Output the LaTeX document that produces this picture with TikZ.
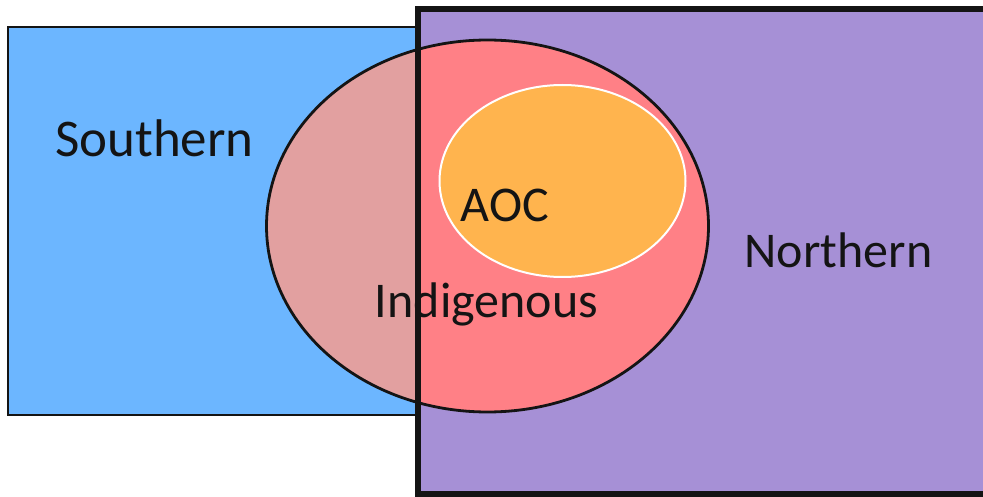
\documentclass[tikz,border=0pt]{standalone}
\usepackage{fontspec}
\setmainfont{Carlito}
\definecolor{southblue}{RGB}{108,182,255}
\definecolor{northpurple}{RGB}{166,144,214}
\definecolor{indleft}{RGB}{226,160,160}
\definecolor{indright}{RGB}{255,128,134}
\definecolor{aocorange}{RGB}{255,180,78}
\definecolor{inkline}{RGB}{20,20,20}
\tikzset{
  lbl/.style={font=\fontsize{50}{60}\selectfont, text=inkline, anchor=base, inner sep=0pt},
}
\begin{document}
\begin{tikzpicture}[x=1pt,y=-1pt]
\useasboundingbox (0,0) rectangle (983,497);
% Southern rectangle
\draw[fill=southblue, draw=inkline, line width=2.6pt] (8,27) rectangle (430,415);
% Northern rectangle (extends past right edge)
\begin{scope}
\clip (0,0) rectangle (983,497);
\fill[northpurple] (418,9) rectangle (1000,494);
\end{scope}
% Indigenous ellipse fills
\begin{scope}
\clip (0,0) rectangle (418,497);
\fill[indleft] (487.5,226) ellipse [x radius=221, y radius=186];
\end{scope}
\begin{scope}
\clip (418,0) rectangle (983,497);
\fill[indright] (487.5,226) ellipse [x radius=221, y radius=186];
\end{scope}
\draw[inkline, line width=2.8pt] (487.5,226) ellipse [x radius=221, y radius=186];
% Northern border
\begin{scope}
\clip (0,0) rectangle (983,497);
\draw[inkline, line width=6pt] (1000,9) -- (418,9) -- (418,494) -- (1000,494);
\end{scope}
% AOC ellipse
\draw[fill=aocorange, draw=white, line width=2pt] (562.5,181) ellipse [x radius=123, y radius=96];
% Labels
\node[lbl, font=\fontsize{53}{63}\selectfont] (south) at (154.5,157) {Southern};
\node[lbl] (north) at (838.5,268) {Northern};
\node[lbl] (ind) at (486.5,317) {Indigenous};
\node[lbl] (aoc) at (505,222) {AOC};
\end{tikzpicture}
\end{document}
